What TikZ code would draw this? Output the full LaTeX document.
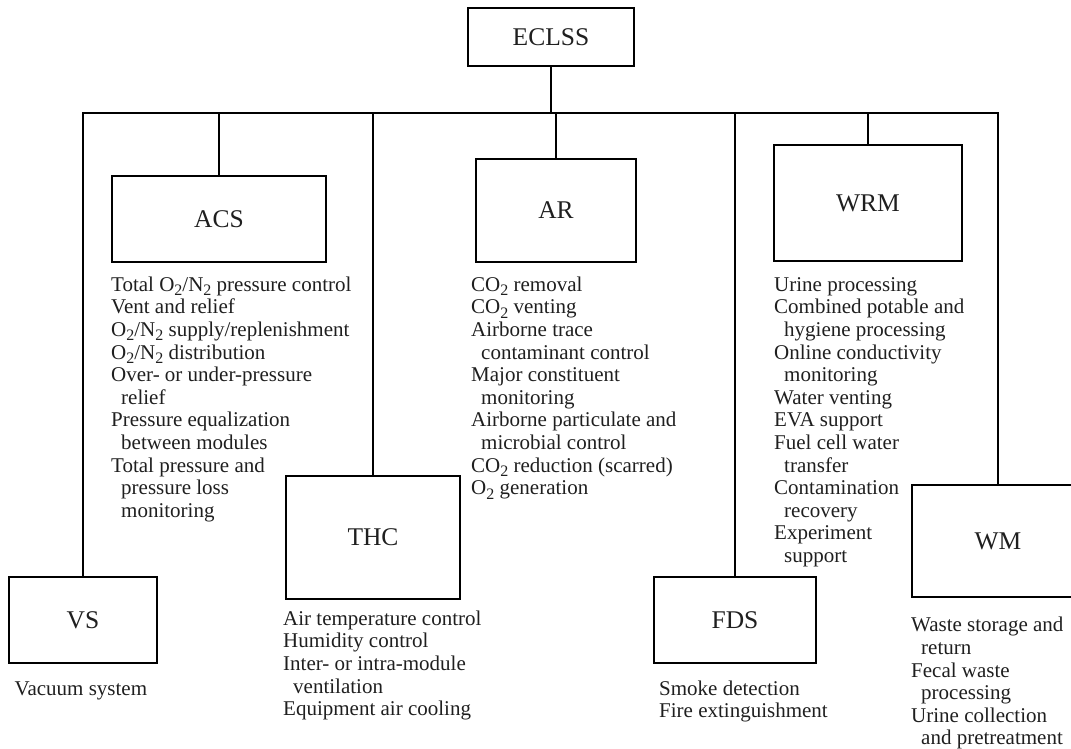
\documentclass[tikz,border=0pt]{standalone}
\usepackage{fontspec}
\setmainfont{Liberation Serif}
\newcommand{\ind}{\hspace*{10pt}}
\newcommand{\sub}[1]{\raisebox{-4.5pt}{\fontsize{16}{16}\selectfont #1}}
\begin{document}
\begin{tikzpicture}[x=1pt,y=-1pt,
  box/.style={draw, line width=1.8pt, inner sep=0pt, font=\fontsize{25.5}{28}\selectfont, text=black!88},
  lst/.style={anchor=north west, align=left, inner sep=0pt, font=\fontsize{21}{22.6}\selectfont, text=black!88},
  conn/.style={line width=1.8pt, line join=miter}]
\useasboundingbox (0,0) rectangle (1071,748);
% boxes
\node[box, minimum width=166pt, minimum height=58pt] (eclss) at (551,37) {ECLSS};
\node[box, minimum width=214pt, minimum height=86pt] (acs) at (219,219) {ACS};
\node[box, minimum width=160pt, minimum height=103pt] (ar) at (556,210.5) {AR};
\node[box, minimum width=188pt, minimum height=116pt] (wrm) at (868,203) {WRM};
\node[box, minimum width=174pt, minimum height=123pt] (thc) at (373,537.5) {THC};
\node[box, minimum width=148pt, minimum height=86pt] (vs) at (83,620) {VS};
\node[box, minimum width=162pt, minimum height=86pt] (fds) at (735,620) {FDS};
\node[box, minimum width=172pt, minimum height=112pt] (wm) at (998,541) {WM};
% bus
\coordinate (bus) at (550,113);
\draw[conn] (vs.north) -- (vs.north |- bus) -- (wm.north |- bus) -- (wm.north);
\draw[conn] (eclss.south) -- (eclss.south |- bus);
\draw[conn] (acs.north) -- (acs.north |- bus);
\draw[conn] (ar.north) -- (ar.north |- bus);
\draw[conn] (wrm.north) -- (wrm.north |- bus);
\draw[conn] (thc.north) -- (thc.north |- bus);
\draw[conn] (fds.north) -- (fds.north |- bus);
% lists
\node[lst] (acslist) at (111,275.2) {\strut Total O\sub{2}/N\sub{2} pressure control\\
Vent and relief\\
O\sub{2}/N\sub{2} supply/replenishment\\
O\sub{2}/N\sub{2} distribution\\
Over- or under-pressure\\
\ind relief\\
Pressure equalization\\
\ind between modules\\
Total pressure and\\
\ind pressure loss\\
\ind monitoring};
\node[lst] (arlist) at (471,275.2) {\strut CO\sub{2} removal\\
CO\sub{2} venting\\
Airborne trace\\
\ind contaminant control\\
Major constituent\\
\ind monitoring\\
Airborne particulate and\\
\ind microbial control\\
CO\sub{2} reduction (scarred)\\
O\sub{2} generation};
\node[lst] (wrmlist) at (774,275.2) {\strut Urine processing\\
Combined potable and\\
\ind hygiene processing\\
Online conductivity\\
\ind monitoring\\
Water venting\\
EVA support\\
Fuel cell water\\
\ind transfer\\
Contamination\\
\ind recovery\\
Experiment\\
\ind support};
\node[lst] (thclist) at (283,609.2) {\strut Air temperature control\\
Humidity control\\
Inter- or intra-module\\
\ind ventilation\\
Equipment air cooling};
\node[lst] (vslist) at (14.5,679.2) {\strut Vacuum system};
\node[lst] (fdslist) at (659,679.2) {\strut Smoke detection\\
Fire extinguishment};
\node[lst] (wmlist) at (911,615.9) {\strut Waste storage and\\
\ind return\\
Fecal waste\\
\ind processing\\
Urine collection\\
\ind and pretreatment};
\end{tikzpicture}
\end{document}
